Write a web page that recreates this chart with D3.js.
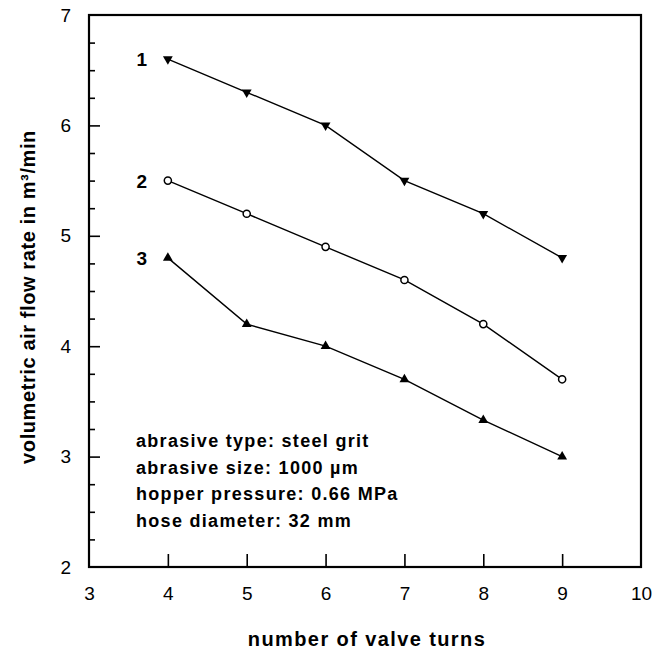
<!DOCTYPE html>
<html>
<head>
<meta charset="utf-8">
<script src="https://cdn.jsdelivr.net/npm/d3@7"></script>
<style>
body { margin: 0; background: #fff; }
svg text { font-family: "Liberation Sans", Arial, sans-serif; fill: #000; }
</style>
</head>
<body>
<svg id="chart" width="652" height="651"></svg>
<script>
// values
var turns = [4, 5, 6, 7, 8, 9];
var flow1 = [6.6, 6.3, 6.0, 5.5, 5.2, 4.8];   // curve 1, down triangles
var flow2 = [5.5, 5.2, 4.9, 4.6, 4.2, 3.7];   // curve 2, open circles
var flow3 = [4.8, 4.2, 4.0, 3.7, 3.33, 3.0];  // curve 3, up triangles
var xTicks = [3, 4, 5, 6, 7, 8, 9, 10];
var yTicks = [2, 3, 4, 5, 6, 7];
var notes = ["abrasive type: steel grit", "abrasive size: 1000 \u00b5m",
             "hopper pressure: 0.66 MPa", "hose diameter: 32 mm"];

var margin = {top: 15, right: 11, bottom: 84, left: 89};
var svg = d3.select("#chart");
var width = 652 - margin.left - margin.right,
    height = 651 - margin.top - margin.bottom;

var g = svg.append("g")
  .attr("transform", "translate(" + margin.left + "," + margin.top + ")");

var x_scale = d3.scaleLinear().domain([3, 10]).range([0, width]);
var y_scale = d3.scaleLinear().domain([2, 7]).range([height, 0]);

// x axis, ticks pointing inward
var xAxis = g.append("g")
  .attr("transform", "translate(0," + height + ")")
  .call(d3.axisBottom(x_scale).tickValues(xTicks).tickSize(-13).tickPadding(20)
        .tickFormat(d3.format("d")));
xAxis.select(".domain").remove();
xAxis.selectAll(".tick line").filter(function(d) { return d == 3 || d == 10; }).remove();

// y axis, major + minor ticks
var yMinor = d3.range(2, 7.01, 0.25).filter(function(d) { return d % 1 != 0; });
var yAxisMinor = g.append("g")
  .call(d3.axisLeft(y_scale).tickValues(yMinor).tickSize(-6).tickFormat(""));
yAxisMinor.select(".domain").remove();

var yAxis = g.append("g")
  .call(d3.axisLeft(y_scale).tickValues(yTicks).tickSize(-11).tickPadding(18)
        .tickFormat(d3.format("d")));
yAxis.select(".domain").remove();
yAxis.selectAll(".tick line").filter(function(d) { return d == 2 || d == 7; }).remove();

g.selectAll(".tick line").attr("stroke", "#000").attr("stroke-width", 1.6);
g.selectAll(".tick text").style("font-size", "19px");

// frame
g.append("rect")
  .attr("x", 0).attr("y", 0)
  .attr("width", width).attr("height", height)
  .attr("fill", "none").attr("stroke", "#000").attr("stroke-width", 2.2);

// lines
var line = d3.line()
  .x(function(d) { return x_scale(d[0]); })
  .y(function(d) { return y_scale(d[1]); });

var series = [
  {vals: flow1, shape: "down", label: "1"},
  {vals: flow2, shape: "circle", label: "2"},
  {vals: flow3, shape: "up", label: "3"}
];

series.forEach(function(s) {
  var pts = turns.map(function(t, i) { return [t, s.vals[i]]; });

  g.append("path")
    .datum(pts)
    .attr("d", line)
    .attr("fill", "none")
    .attr("stroke", "#000")
    .attr("stroke-width", 1.4);

  var marks = g.selectAll(null)
    .data(pts)
    .enter()
    .append("path")
    .attr("transform", function(d) {
      return "translate(" + x_scale(d[0]) + "," + y_scale(d[1]) + ")" +
        (s.shape == "down" ? " rotate(180)" : "");
    });

  if (s.shape == "circle") {
    marks.attr("d", d3.symbol().type(d3.symbolCircle).size(40))
      .attr("fill", "#fff").attr("stroke", "#000").attr("stroke-width", 1.5);
  } else {
    marks.attr("d", d3.symbol().type(d3.symbolTriangle).size(42))
      .attr("fill", "#000");
  }

  // curve number
  g.append("text")
    .attr("x", x_scale(turns[0]) - 26)
    .attr("y", y_scale(s.vals[0]) + 7)
    .attr("text-anchor", "middle")
    .style("font-size", "19px")
    .style("font-weight", "bold")
    .text(s.label);
});

// parameter notes
g.selectAll(".note")
  .data(notes)
  .enter()
  .append("text")
  .attr("class", "note")
  .attr("x", 47)
  .attr("y", function(d, i) { return 432 + i * 26.5; })
  .style("font-size", "18px")
  .style("font-weight", "bold")
  .style("letter-spacing", "1.3px")
  .text(function(d) { return d; });

// axis titles
svg.append("text")
  .attr("x", margin.left + width / 2 + 2)
  .attr("y", 646)
  .attr("text-anchor", "middle")
  .style("font-size", "20px")
  .style("font-weight", "bold")
  .style("letter-spacing", "1.4px")
  .text("number of valve turns");

svg.append("text")
  .attr("transform", "translate(35," + (margin.top + height / 2 + 6) + ") rotate(-90)")
  .attr("text-anchor", "middle")
  .style("font-size", "20px")
  .style("font-weight", "bold")
  .style("letter-spacing", "0.6px")
  .text("volumetric air flow rate in m\u00b3/min");
</script>
</body>
</html>
